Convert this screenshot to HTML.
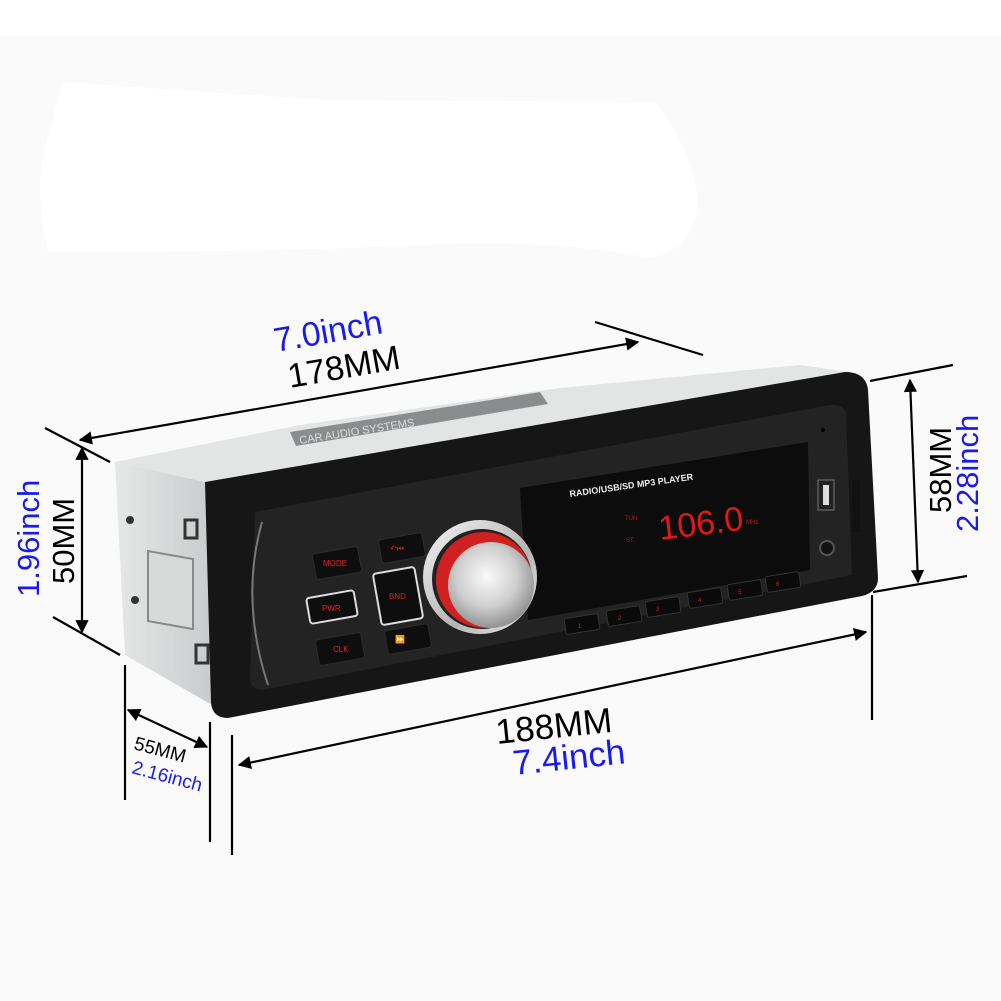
<!DOCTYPE html>
<html><head><meta charset="utf-8"><style>
html,body{margin:0;padding:0;background:#fafafa;}
svg{display:block;}
text{font-family:"Liberation Sans",sans-serif;}
</style></head><body>
<svg width="1001" height="1001" viewBox="0 0 1001 1001" xmlns="http://www.w3.org/2000/svg">
<defs>
<marker id="ar" viewBox="0 0 10 10" refX="9" refY="5" markerWidth="9" markerHeight="6" orient="auto-start-reverse" markerUnits="strokeWidth"><path d="M0,0 L10,5 L0,10 z" fill="#000"/></marker>
<radialGradient id="knob" cx="0.45" cy="0.4" r="0.7"><stop offset="0" stop-color="#fafafa"/><stop offset="0.5" stop-color="#cfcfcf"/><stop offset="1" stop-color="#7a7a7a"/></radialGradient>
<linearGradient id="ring" x1="0" y1="0" x2="1" y2="1"><stop offset="0" stop-color="#f4f4f4"/><stop offset="0.6" stop-color="#b5b5b5"/><stop offset="1" stop-color="#eee"/></linearGradient>
<linearGradient id="side" x1="0" y1="0" x2="1" y2="0"><stop offset="0" stop-color="#e6e8e8"/><stop offset="1" stop-color="#c9cccc"/></linearGradient>
</defs>
<rect x="0" y="0" width="1001" height="36" fill="#ffffff"/>
<path d="M62,82 L325,100 L655,102 Q700,160 697,210 Q690,250 650,258 Q560,240 440,244 Q300,252 48,252 Q36,200 42,160 Z" fill="#ffffff"/>

<polygon points="115,462 300,425 560,388 800,365 850,372 205,482" fill="#e3e5e5"/>
<polygon points="290,432 540,392 548,404 296,446" fill="#8a8d8e"/>
<text x="300" y="444" font-size="11" fill="#ddd" transform="rotate(-9 300 444)">CAR AUDIO SYSTEMS</text>
<polygon points="115,462 205,482 212,705 125,655" fill="url(#side)"/>
<rect x="148" y="555" width="45" height="70" fill="#d8dada" stroke="#888" stroke-width="2" transform="skewY(10) translate(0,-30)"/>
<circle cx="130" cy="520" r="4" fill="#333"/><circle cx="135" cy="600" r="4" fill="#333"/>
<rect x="185" y="520" width="12" height="18" fill="none" stroke="#333" stroke-width="3"/>
<rect x="196" y="645" width="12" height="18" fill="none" stroke="#333" stroke-width="3"/>

<path d="M205,482 L845,372 Q866,372 868,390 L878,578 Q878,592 862,596 L228,718 Q212,718 211,702 Z" fill="#161616"/>
<path d="M255,512 L830,405 Q845,404 846,416 L852,575 L262,690 Q250,690 250,678 Z" fill="#232323"/>
<path d="M262,522 Q240,600 268,685" fill="none" stroke="#777" stroke-width="2"/>
<polygon points="520,488 808,442 810,570 528,620" fill="#0c0c0c"/>
<text x="570" y="497" font-size="9" fill="#eee" font-weight="bold" transform="rotate(-8 570 497)">RADIO/USB/SD MP3  PLAYER</text>
<text x="660" y="540" font-size="34" fill="#e01818" transform="rotate(-7 660 540)" font-family="Liberation Mono, monospace">106.0</text>
<text x="625" y="520" font-size="6" fill="#c01818">TUN</text>
<text x="626" y="542" font-size="6" fill="#c01818">ST</text>
<text x="746" y="524" font-size="6" fill="#c01818">MHz</text>

<g fill="#0a0a0a" stroke="#333" stroke-width="1">
<rect x="565" y="616" width="34" height="16" rx="2" transform="rotate(-9 582 624)"/>
<rect x="607" y="608" width="34" height="16" rx="2" transform="rotate(-9 624 616)"/>
<rect x="646" y="599" width="34" height="16" rx="2" transform="rotate(-9 663 607)"/>
<rect x="688" y="590" width="34" height="16" rx="2" transform="rotate(-9 705 598)"/>
<rect x="728" y="582" width="34" height="16" rx="2" transform="rotate(-9 745 590)"/>
<rect x="766" y="574" width="34" height="16" rx="2" transform="rotate(-9 783 582)"/>
</g>
<g font-size="6" fill="#d02020">
<text x="578" y="628">1</text><text x="618" y="620">2</text><text x="656" y="611">3</text><text x="698" y="602">4</text><text x="738" y="594">5</text><text x="776" y="586">6</text>
</g>
<rect x="818" y="480" width="16" height="30" fill="#222" stroke="#777"/>
<rect x="823" y="485" width="6" height="20" fill="#ddd"/>
<circle cx="827" cy="548" r="7" fill="#111" stroke="#555" stroke-width="2"/>
<rect x="852" y="480" width="8" height="52" fill="#111"/>
<circle cx="823" cy="430" r="2" fill="#000"/>

<g fill="#0e0e0e" stroke="#2c2c2c">
<rect x="314" y="550" width="46" height="26" rx="3" transform="rotate(-10 337 563)"/>
<rect x="308" y="594" width="48" height="26" rx="3" transform="rotate(-10 332 607)" stroke="#ddd" stroke-width="2"/>
<rect x="317" y="636" width="46" height="26" rx="3" transform="rotate(-10 340 649)"/>
<rect x="380" y="536" width="44" height="24" rx="3" transform="rotate(-10 402 548)"/>
<rect x="377" y="570" width="42" height="52" rx="3" transform="rotate(-10 398 596)" stroke="#ddd" stroke-width="2"/>
<rect x="386" y="627" width="44" height="24" rx="3" transform="rotate(-10 408 639)"/>
</g>
<g font-size="8" fill="#e02020">
<text x="323" y="566">MODE</text><text x="322" y="611">PWR</text><text x="333" y="652">CLK</text>
<text x="389" y="599">BND</text><text x="390" y="551">↶⏮</text><text x="395" y="642">⏩</text>
</g>
<circle cx="480" cy="577" r="57" fill="url(#ring)"/>
<circle cx="482" cy="579" r="50" fill="#222"/>
<circle cx="484" cy="580" r="48" fill="#d02020"/>
<circle cx="491" cy="585" r="43" fill="url(#knob)"/>

<g stroke="#000" stroke-width="2.2" fill="none">
<line x1="45" y1="428" x2="110" y2="462"/>
<line x1="53" y1="617" x2="120" y2="655"/>
<line x1="595" y1="322" x2="703" y2="355"/>
<line x1="80" y1="440" x2="638" y2="342" marker-start="url(#ar)" marker-end="url(#ar)"/>
<line x1="82" y1="448" x2="82" y2="632" marker-start="url(#ar)" marker-end="url(#ar)"/>
<line x1="870" y1="381" x2="953" y2="365"/>
<line x1="873" y1="592" x2="967" y2="576"/>
<line x1="910" y1="380" x2="918" y2="582" marker-start="url(#ar)" marker-end="url(#ar)"/>
<line x1="872" y1="595" x2="872" y2="720"/>
<line x1="239" y1="765" x2="866" y2="632" marker-start="url(#ar)" marker-end="url(#ar)"/>
<line x1="232" y1="735" x2="232" y2="855"/>
<line x1="125" y1="665" x2="125" y2="800"/>
<line x1="210" y1="722" x2="210" y2="842"/>
<line x1="128" y1="710" x2="207" y2="747" marker-start="url(#ar)" marker-end="url(#ar)"/>
</g>
<text x="276" y="352" font-size="34" fill="#1a1aee" transform="rotate(-10 276 352)">7.0inch</text>
<text x="290" y="388" font-size="34" fill="#000" transform="rotate(-10 290 388)">178MM</text>
<text x="39" y="597" font-size="31" fill="#1a1aee" transform="rotate(-90 39 597)">1.96inch</text>
<text x="74" y="584" font-size="31" fill="#000" transform="rotate(-90 74 584)">50MM</text>
<text x="951" y="513" font-size="31" fill="#000" transform="rotate(-90 951 513)">58MM</text>
<text x="978" y="532" font-size="31" fill="#1a1aee" transform="rotate(-90 978 532)">2.28inch</text>
<text x="497" y="744" font-size="35" fill="#000" transform="rotate(-6 497 744)">188MM</text>
<text x="514" y="775" font-size="35" fill="#1a1aee" transform="rotate(-6 514 775)">7.4inch</text>
<text x="133" y="749" font-size="19" fill="#000" transform="rotate(15 133 749)">55MM</text>
<text x="131" y="773" font-size="19" fill="#1a1aee" transform="rotate(15 131 773)">2.16inch</text>
</svg>
</body></html>
